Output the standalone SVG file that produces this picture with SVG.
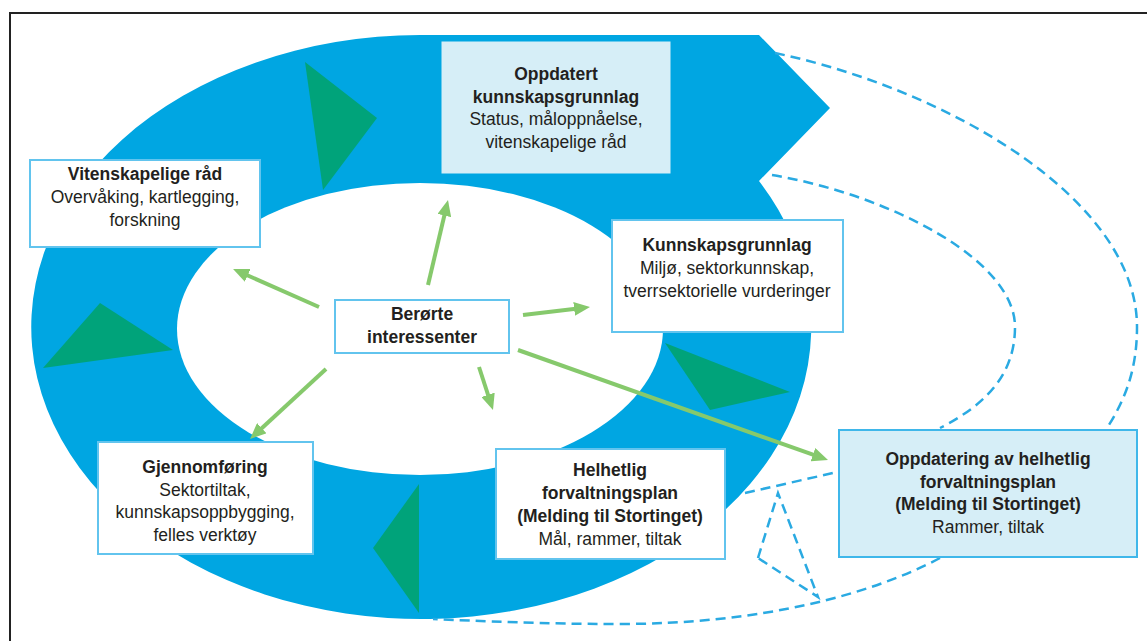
<svg xmlns="http://www.w3.org/2000/svg" width="1147" height="641" viewBox="0 0 1147 641">
<defs>
<style>
.t{font-family:"Liberation Sans",Arial,sans-serif;font-size:17.5px;fill:#231f20;text-anchor:middle}
.b{font-weight:bold}
.wbox{fill:#ffffff;stroke:#62c4ee;stroke-width:2}
.lbox{fill:#d6eef7;stroke:#d6eef7;stroke-width:1}
.lbox2{fill:#d6eef7;stroke:#3fb7ea;stroke-width:2}
.arr{stroke:#86c96c;stroke-width:4;fill:none;marker-end:url(#ah)}
.dash{stroke:#2aaae2;stroke-width:2.5;fill:none;stroke-dasharray:10 6}
.tri{fill:#00a37a}
</style>
<marker id="ah" markerUnits="userSpaceOnUse" markerWidth="16" markerHeight="14" refX="6" refY="7" orient="auto">
<path d="M0,0 L16,7 L0,14 z" fill="#86c96c"/>
</marker>
</defs>
<rect width="1147" height="641" fill="#ffffff"/>
<path d="M10,641 V13 H1147" fill="none" stroke="#222" stroke-width="2"/>
<g id="ring">
<path d="M759,181 A390,292 0 1 1 420,35 L759,35 L830,108 Z" fill="#00a6e2"/>
<ellipse cx="420" cy="329" rx="243" ry="146" fill="#ffffff"/>
<polygon class="tri" points="305,62 377,118 323,190"/>
<polygon class="tri" points="100,303 173,350 43,368"/>
<polygon class="tri" points="665,343 790,392 710,410"/>
<polygon class="tri" points="419,484 419,613 373,548"/>
</g>
<g id="connectors">
<line class="arr" x1="319" y1="307" x2="242.2" y2="273"/>
<line class="arr" x1="428" y1="285" x2="445.7" y2="209.7"/>
<line class="arr" x1="523" y1="315" x2="580.1" y2="308.2"/>
<line class="arr" x1="518" y1="350" x2="818.6" y2="456.7"/>
<line class="arr" x1="479" y1="367" x2="489.9" y2="400.5"/>
<line class="arr" x1="326" y1="369" x2="257.4" y2="432.2"/>
<path class="dash" d="M775,53 C950,90 1137,200 1137,327 C1137,370 1125,400 1107,428"/>
<path class="dash" d="M772,175 C890,195 1015,260 1015,327 C1015,375 985,405 940,428"/>
<path class="dash" d="M940,558 C870,595 760,624 620,624 C540,624 480,621 433,619"/>
<path class="dash" d="M745,493 L833,473"/>
<path class="dash" d="M758,558 L778,493 L818,597 L758,558"/>
</g>
<g id="n-oppdatert">
<rect class="lbox" x="442" y="42" width="228" height="131"/>
<text class="t b" x="556" y="80">Oppdatert</text>
<text class="t b" x="556" y="103">kunnskapsgrunnlag</text>
<text class="t" x="556" y="125">Status, måloppnåelse,</text>
<text class="t" x="556" y="148">vitenskapelige råd</text>
</g>
<g id="n-vitenskapelige">
<rect class="wbox" x="30" y="160" width="230" height="87"/>
<text class="t b" x="145" y="180">Vitenskapelige råd</text>
<text class="t" x="145" y="203">Overvåking, kartlegging,</text>
<text class="t" x="145" y="226">forskning</text>
</g>
<g id="n-kunnskapsgrunnlag">
<rect class="wbox" x="612" y="220" width="231" height="112"/>
<text class="t b" x="727" y="251">Kunnskapsgrunnlag</text>
<text class="t" x="727" y="274">Miljø, sektorkunnskap,</text>
<text class="t" x="727" y="297">tverrsektorielle vurderinger</text>
</g>
<g id="n-berorte">
<rect class="wbox" x="335" y="300" width="174" height="53"/>
<text class="t b" x="422" y="320">Berørte</text>
<text class="t b" x="422" y="343">interessenter</text>
</g>
<g id="n-gjennomforing">
<rect class="wbox" x="98" y="442" width="215" height="112"/>
<text class="t b" x="205" y="473">Gjennomføring</text>
<text class="t" x="205" y="496">Sektortiltak,</text>
<text class="t" x="205" y="518">kunnskapsoppbygging,</text>
<text class="t" x="205" y="541">felles verktøy</text>
</g>
<g id="n-helhetlig">
<rect class="wbox" x="496" y="449" width="229" height="110"/>
<text class="t b" x="610" y="476">Helhetlig</text>
<text class="t b" x="610" y="499">forvaltningsplan</text>
<text class="t b" x="610" y="522">(Melding til Stortinget)</text>
<text class="t" x="610" y="545">Mål, rammer, tiltak</text>
</g>
<g id="n-oppdatering">
<rect class="lbox2" x="839" y="430" width="298" height="127"/>
<text class="t b" x="988" y="465">Oppdatering av helhetlig</text>
<text class="t b" x="988" y="488">forvaltningsplan</text>
<text class="t b" x="988" y="510">(Melding til Stortinget)</text>
<text class="t" x="988" y="533">Rammer, tiltak</text>
</g>
</svg>
